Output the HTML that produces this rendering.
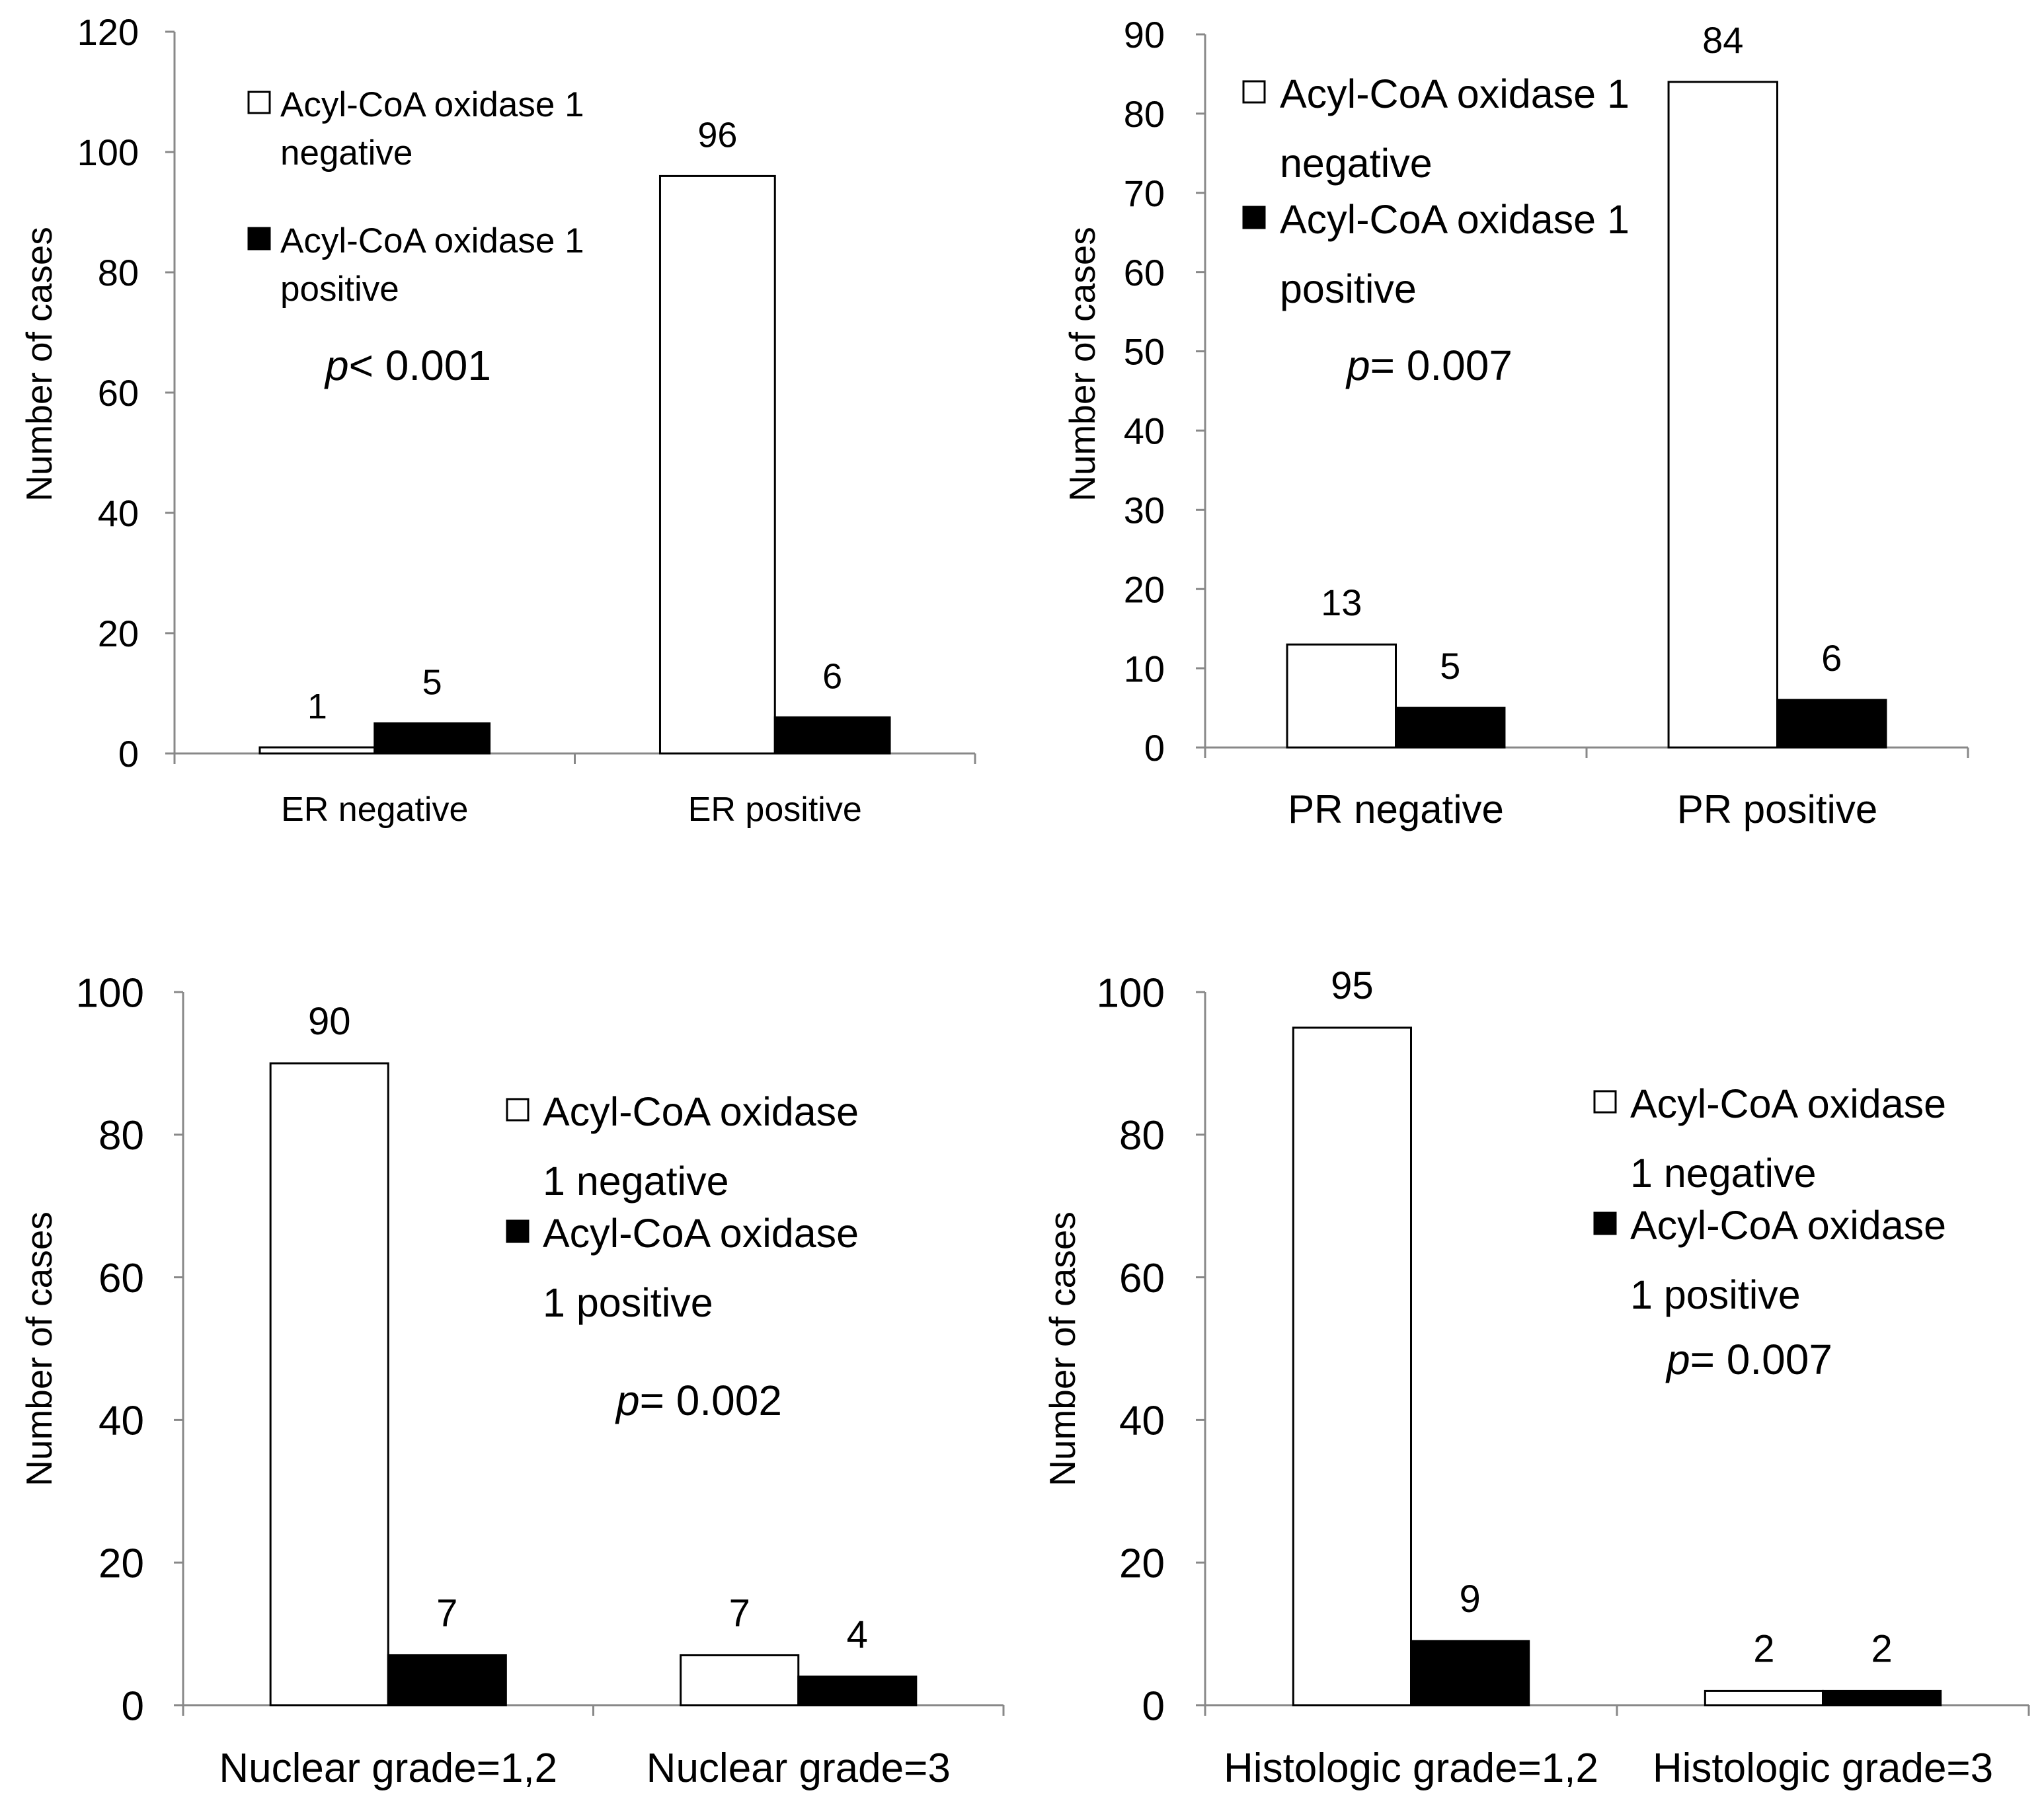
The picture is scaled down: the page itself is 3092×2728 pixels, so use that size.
<!DOCTYPE html>
<html><head><meta charset="utf-8">
<style>
html,body{margin:0;padding:0;background:#fff;}
svg{display:block;}
text{font-family:"Liberation Sans","Noto Sans CJK KR",sans-serif;fill:#000;}
</style></head>
<body>
<svg id="fig" width="3092" height="2728" viewBox="0 0 3092 2728" xmlns="http://www.w3.org/2000/svg"></svg>
<script>
// ---- data ----
const erCategories = ["ER negative", "ER positive"];
const erNegative = [1, 96];
const erPositive = [5, 6];
const erTicks = [0, 20, 40, 60, 80, 100, 120];

const prCategories = ["PR negative", "PR positive"];
const prNegative = [13, 84];
const prPositive = [5, 6];
const prTicks = [0, 10, 20, 30, 40, 50, 60, 70, 80, 90];

const ngCategories = ["Nuclear grade=1,2", "Nuclear grade=3"];
const ngNegative = [90, 7];
const ngPositive = [7, 4];
const ngTicks = [0, 20, 40, 60, 80, 100];

const hgCategories = ["Histologic grade=1,2", "Histologic grade=3"];
const hgNegative = [95, 2];
const hgPositive = [9, 2];
const hgTicks = [0, 20, 40, 60, 80, 100];

const NS = "http://www.w3.org/2000/svg";
const fig = document.getElementById('fig');
function mk(tag, attrs, parent, txt) {
  const e = document.createElementNS(NS, tag);
  for (const k in attrs) e.setAttribute(k, attrs[k]);
  if (txt !== undefined) e.textContent = txt;
  parent.appendChild(e);
  return e;
}

function chart(cfg) {
  const g = mk('g', {}, fig);
  
  
  const ymax = cfg.ticks[cfg.ticks.length - 1];
  const yS = v => cfg.y0 - (v / ymax) * (cfg.y0 - cfg.yTop);
  const gw = (cfg.x1 - cfg.x0) / cfg.cats.length;
  const bw = gw * cfg.barFrac;
  const ya = mk('line', {x1: cfg.x0, y1: cfg.yTop, x2: cfg.x0, y2: cfg.y0, stroke: '#888', 'stroke-width': 3}, g);
  
  
  cfg.ticks.forEach(t => {
    const y = yS(t);
    const tk = mk('line', {x1: cfg.x0 - 14, y1: y, x2: cfg.x0, y2: y, stroke: '#888', 'stroke-width': 3}, g);
    
    
    const tl = mk('text', {x: cfg.tickX, y: y + cfg.tickFs * 0.36, 'text-anchor': 'end', 'font-size': cfg.tickFs}, g, String(t));
    
    
  });
  const xa = mk('line', {x1: cfg.x0, y1: cfg.y0, x2: cfg.x1, y2: cfg.y0, stroke: '#888', 'stroke-width': 3}, g);
  
  
  for (let i = 0; i <= cfg.cats.length; i++) {
    const x = cfg.x0 + i * gw;
    const tk = mk('line', {x1: x, y1: cfg.y0, x2: x, y2: cfg.y0 + 16, stroke: '#888', 'stroke-width': 3}, g);
    
    
  }
  cfg.cats.forEach((c, i) => {
    const cx = cfg.x0 + (i + 0.5) * gw;
    const cl = mk('text', {x: cx, y: cfg.catY, 'text-anchor': 'middle', 'font-size': cfg.catFs}, g, c);
    
    
    [[cfg.neg[i], '#fff', 'bar-negative'], [cfg.pos[i], '#000', 'bar-positive']].forEach((s, j) => {
      const bx = cx - bw + j * bw;
      const top = yS(s[0]);
      const r = mk('rect', {x: bx, y: top, width: bw, height: cfg.y0 - top, fill: s[1], stroke: '#000', 'stroke-width': 3}, g);
      
      
      const vl = mk('text', {x: bx + bw / 2, y: top - 44, 'text-anchor': 'middle', 'font-size': cfg.valFs}, g, String(s[0]));
      
      
    });
  });
  const at = mk('text', {x: 0, y: 0, 'text-anchor': 'middle', 'font-size': 55, transform: `translate(${cfg.titleX},${cfg.titleY}) rotate(-90)`}, g, 'Number of cases');
  
  
  const lg = mk('g', {}, g);
  
  
  cfg.legLines.forEach((ln, i) => {
    const y = cfg.legY[i];
    if (ln.sq) {
      const sq = mk('rect', {x: cfg.sqX, y: y - 18, width: 32, height: 32, fill: ln.sq, stroke: '#000', 'stroke-width': 3}, lg);
      
      
    }
    const t = mk('text', {x: cfg.legX, y: y + cfg.legFs * 0.36, 'font-size': cfg.legFs}, lg, ln.t);
    
    
  });
  const p = mk('text', {x: cfg.pX, y: cfg.pY + 22, 'font-size': cfg.pFs}, g);
  
  
  const pi = mk('tspan', {'font-style': 'italic'}, p, 'p');
  
  
  mk('tspan', {}, p, cfg.pText);
}

chart({name: 'chart-er', cats: erCategories, neg: erNegative, pos: erPositive, ticks: erTicks,
  x0: 264, x1: 1475, y0: 1140, yTop: 48, barFrac: 0.287, tickX: 210, tickFs: 56, catY: 1242, catFs: 52, valFs: 54,
  titleX: 78, titleY: 551, sqX: 376, legX: 424, legFs: 53,
  legY: [157, 230, 363, 436],
  legLines: [{sq: '#fff', t: 'Acyl-CoA oxidase 1'}, {t: 'negative'}, {sq: '#000', t: 'Acyl-CoA oxidase 1'}, {t: 'positive'}],
  pX: 492, pY: 553, pFs: 64, pText: '< 0.001'});

chart({name: 'chart-pr', cats: prCategories, neg: prNegative, pos: prPositive, ticks: prTicks,
  x0: 1823, x1: 2977, y0: 1131, yTop: 52, barFrac: 0.285, tickX: 1762, tickFs: 56, catY: 1245, catFs: 60, valFs: 56,
  titleX: 1656, titleY: 551, sqX: 1881, legX: 1936, legFs: 61,
  legY: [141, 246, 331, 436],
  legLines: [{sq: '#fff', t: 'Acyl-CoA oxidase 1'}, {t: 'negative'}, {sq: '#000', t: 'Acyl-CoA oxidase 1'}, {t: 'positive'}],
  pX: 2037, pY: 553, pFs: 64, pText: '= 0.007'});

chart({name: 'chart-nuclear-grade', cats: ngCategories, neg: ngNegative, pos: ngPositive, ticks: ngTicks,
  x0: 277, x1: 1518, y0: 2580, yTop: 1501, barFrac: 0.287, tickX: 218, tickFs: 62, catY: 2696, catFs: 62, valFs: 58,
  titleX: 78, titleY: 2041, sqX: 767, legX: 821, legFs: 61,
  legY: [1681, 1786, 1865, 1970],
  legLines: [{sq: '#fff', t: 'Acyl-CoA oxidase'}, {t: '1 negative'}, {sq: '#000', t: 'Acyl-CoA oxidase'}, {t: '1 positive'}],
  pX: 932, pY: 2119, pFs: 64, pText: '= 0.002'});

chart({name: 'chart-histologic-grade', cats: hgCategories, neg: hgNegative, pos: hgPositive, ticks: hgTicks,
  x0: 1823, x1: 3069, y0: 2580, yTop: 1501, barFrac: 0.286, tickX: 1762, tickFs: 62, catY: 2696, catFs: 62, valFs: 58,
  titleX: 1626, titleY: 2041, sqX: 2412, legX: 2466, legFs: 61,
  legY: [1669, 1774, 1853, 1958],
  legLines: [{sq: '#fff', t: 'Acyl-CoA oxidase'}, {t: '1 negative'}, {sq: '#000', t: 'Acyl-CoA oxidase'}, {t: '1 positive'}],
  pX: 2521, pY: 2057, pFs: 64, pText: '= 0.007'});
</script>
</body></html>
